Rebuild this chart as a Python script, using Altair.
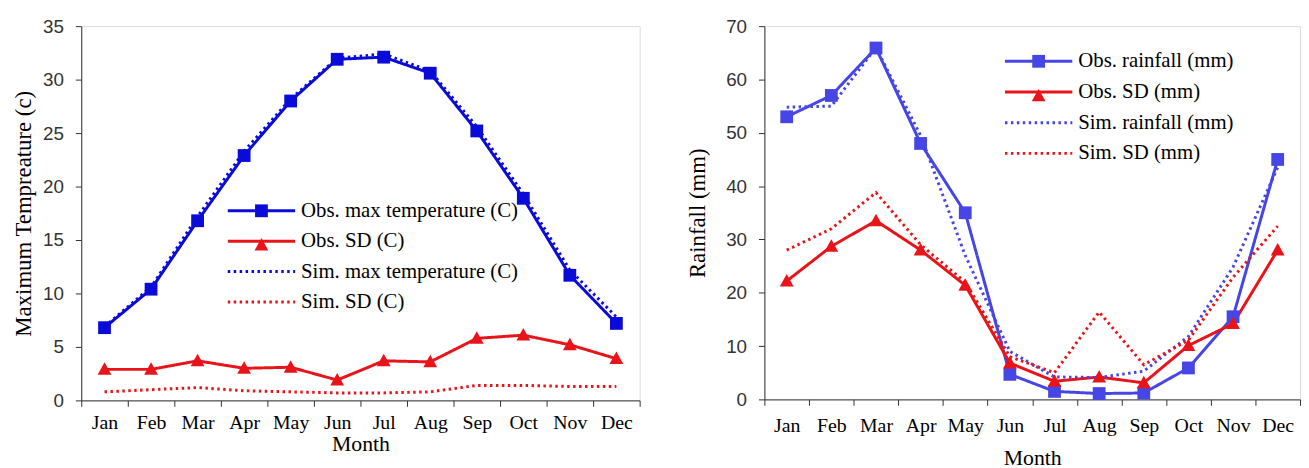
import altair as alt
import pandas as pd

months = ["Jan", "Feb", "Mar", "Apr", "May", "Jun", "Jul", "Aug", "Sep", "Oct", "Nov", "Dec"]

# Left panel: temperature
t_names = ["Obs. max temperature (C)", "Obs. SD (C)", "Sim. max temperature (C)", "Sim. SD (C)"]
obs_tmax = [6.8, 10.4, 16.8, 22.9, 28.0, 31.9, 32.1, 30.6, 25.2, 18.9, 11.7, 7.2]
obs_tsd = [2.9, 2.9, 3.7, 3.0, 3.1, 1.9, 3.7, 3.6, 5.8, 6.1, 5.2, 3.9]
sim_tmax = [6.9, 10.6, 17.2, 23.3, 28.2, 32.0, 32.4, 30.8, 25.6, 19.3, 12.2, 7.8]
sim_tsd = [0.8, 1.0, 1.2, 0.9, 0.8, 0.7, 0.7, 0.8, 1.4, 1.4, 1.3, 1.3]

# Right panel: rainfall
r_names = ["Obs. rainfall (mm)", "Obs. SD (mm)", "Sim. rainfall (mm)", "Sim. SD (mm)"]
obs_rain = [53.0, 57.0, 65.9, 48.0, 35.0, 4.7, 1.5, 1.1, 1.2, 5.9, 15.5, 45.0]
obs_rsd = [22.2, 28.7, 33.5, 28.0, 21.4, 6.8, 3.4, 4.2, 3.1, 10.1, 14.2, 28.0]
sim_rain = [54.8, 55.0, 66.0, 49.5, 27.0, 9.0, 4.2, 4.1, 5.3, 11.8, 24.8, 43.5]
sim_rsd = [28.0, 32.0, 38.8, 29.0, 22.0, 8.0, 5.0, 16.4, 6.5, 11.1, 22.9, 32.5]

t_ticks = [0, 5, 10, 15, 20, 25, 30, 35]
r_ticks = [0, 10, 20, 30, 40, 50, 60, 70]

SERIF = "Liberation Serif"
SANS = "Liberation Sans"

SQUARE = "M-0.76,-0.76H0.76V0.76H-0.76Z"
TRIANGLE = "M0,-0.84L0.82,0.64H-0.82Z"
EMPTY = "M0,0"
LINE_SYM = "M-1,0H7"
SYM_SIZE = 289


def long_df(names, series):
    rows = []
    for i, (name, vals) in enumerate(zip(names, series)):
        for m, v in zip(months, vals):
            rows.append({"month": m, "value": v, "series": name, "marker": f"m{i}"})
    return pd.DataFrame(rows)


def panel(df, names, colors, ticks, ytitle, width, height, lx, ly, rowpad,
          xlabpad, xtitlepad, ytitlepad):
    markers = [f"m{i}" for i in range(4)]
    x = alt.X("month:N", sort=months,
              scale=alt.Scale(type="band", paddingInner=0, paddingOuter=0),
              axis=alt.Axis(title="Month", tickBand="extent", labelAngle=0,
                            labelFont=SERIF, labelFontSize=20, labelColor="black",
                            labelPadding=xlabpad, tickSize=6, tickColor="#333",
                            domainColor="#333", titleFont=SERIF, titleFontSize=22,
                            titleFontWeight="normal", titleColor="black",
                            titlePadding=xtitlepad, grid=False))
    y = alt.Y("value:Q",
              scale=alt.Scale(domain=[ticks[0], ticks[-1]], nice=False, zero=True),
              axis=alt.Axis(title=ytitle, values=ticks, labelFont=SANS, labelFontSize=19,
                            labelColor="#333", labelPadding=12, tickSize=6, tickColor="#333",
                            domainColor="#333", titleFont=SERIF, titleFontSize=23,
                            titleFontWeight="normal", titleColor="black",
                            titlePadding=ytitlepad, grid=False))
    common = dict(title=None, orient="none", legendY=ly, symbolSize=SYM_SIZE,
                  symbolStrokeWidth=3, labelFont=SERIF, labelFontSize=21,
                  labelColor="black", labelOffset=55, rowPadding=rowpad, padding=0,
                  labelLimit=500)
    line_leg = alt.Legend(legendX=lx, symbolType=LINE_SYM, **common)
    mark_leg = alt.Legend(legendX=lx + 25.5, labelExpr="' '", **common)

    base = alt.Chart(df)
    lines = base.mark_line().encode(
        x=x, y=y,
        color=alt.Color("series:N", scale=alt.Scale(domain=names, range=colors), legend=line_leg),
        strokeDash=alt.StrokeDash("series:N",
                                  scale=alt.Scale(domain=names, range=[[1, 0], [1, 0], [2.5, 3.5], [2.5, 3.5]]),
                                  legend=line_leg),
        strokeWidth=alt.StrokeWidth("series:N", scale=alt.Scale(domain=names, range=[3, 3, 2.6, 2.6]),
                                    legend=None),
        order=alt.Order("month_idx:Q"),
    ).transform_calculate(month_idx="indexof(%s, datum.month)" % str(months))
    points = base.mark_point(filled=True, opacity=1, size=SYM_SIZE, strokeWidth=0).encode(
        x=x, y=y,
        shape=alt.Shape("marker:N", scale=alt.Scale(domain=markers, range=[SQUARE, TRIANGLE, EMPTY, EMPTY]),
                        legend=mark_leg),
        fill=alt.Fill("marker:N", scale=alt.Scale(domain=markers, range=colors), legend=mark_leg),
    )
    return alt.layer(lines, points).properties(width=width, height=height)


left_df = long_df(t_names, [obs_tmax, obs_tsd, sim_tmax, sim_tsd])
right_df = long_df(r_names, [obs_rain, obs_rsd, sim_rain, sim_rsd])

left = panel(left_df, t_names, ["#0b0bd9", "#e8141a", "#0b0bd9", "#e8141a"], t_ticks,
             "Maximum Tempreature (c)", 564, 378, 146, 176, 8.7, 6, 2, 7)
right = panel(right_df, r_names, ["#4646e6", "#e8141a", "#4646e6", "#e8141a"], r_ticks,
              "Rainfall (mm)", 541, 377, 241, 25, 9, 10, 13, 16)

chart = alt.hconcat(left, right, spacing=46).resolve_scale(
    color="independent", strokeDash="independent", strokeWidth="independent",
    shape="independent", fill="independent", x="independent", y="independent"
).configure_view(stroke="#333", strokeWidth=1.3).configure(
    padding={"left": 4, "top": 6, "right": 0, "bottom": 0}, background="white"
)

chart.save("out.html", embed_options={"renderer": "svg", "actions": False})
